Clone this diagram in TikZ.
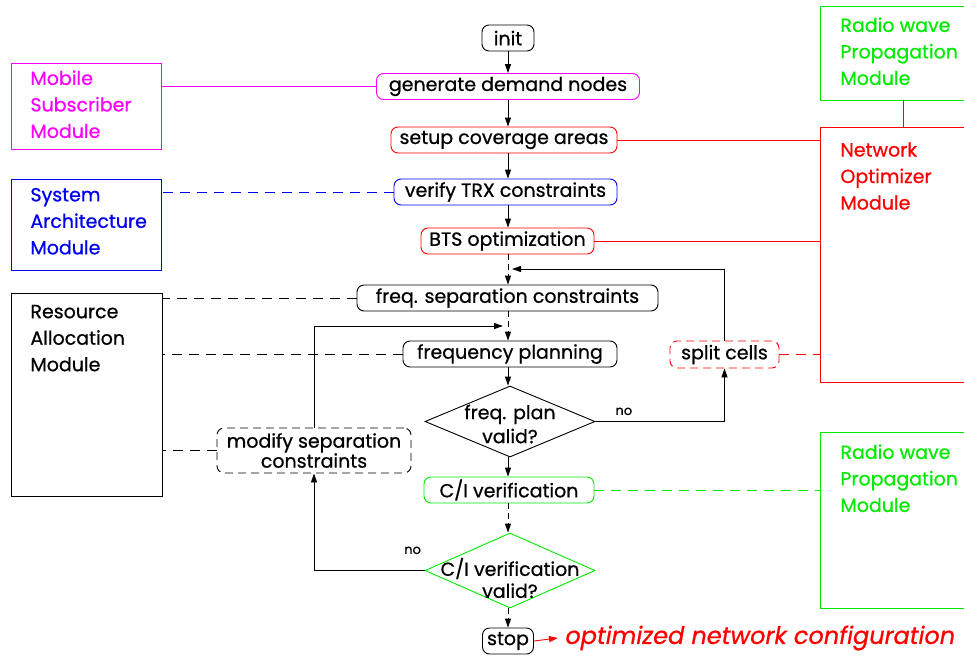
\documentclass[tikz,border=0pt]{standalone}
\usepackage{fontspec}
\setmainfont{Poppins}[FakeBold=0.7]
\usetikzlibrary{arrows.meta,shapes.geometric}
\definecolor{mag}{RGB}{255,0,255}
\definecolor{grn}{RGB}{0,235,0}
\definecolor{blu}{RGB}{0,0,240}
\begin{document}
\begin{tikzpicture}[x=1pt,y=-1pt,
  font=\fontsize{19}{23}\selectfont, line width=0.9pt,
  box/.style={draw, rounded corners=7pt, minimum height=26pt, inner sep=0pt},
  dia/.style={draw, shape=diamond, inner sep=0pt, minimum width=170pt},
  modbox/.style={draw, rectangle, inner sep=0pt},
  modtext/.style={anchor=north west, align=left, inner sep=0pt, font=\fontsize{19}{26.5}\selectfont},
  arr/.style={-{Triangle[length=9pt,width=6pt]}},
  adash/.style={dash pattern=on 6pt off 4pt},
  mdash/.style={dash pattern=on 10pt off 7pt},
  bdash/.style={dash pattern=on 8pt off 5pt},
  nolabel/.style={font=\fontsize{13}{15}\selectfont, inner sep=0pt}]
\useasboundingbox (0,0) rectangle (964,656);
\clip (0,0) rectangle (964,656);

% main flow
\node[box, minimum width=52pt] (init) at (508,38) {init};
\node[box, draw=mag, minimum width=263pt] (gen) at (508,86.5) {generate demand nodes};
\node[box, draw=red, minimum width=226pt] (setup) at (504,140) {setup coverage areas};
\node[box, draw=blu, minimum width=223pt] (trx) at (505.5,192) {verify TRX constraints};
\node[box, draw=red, minimum width=173pt] (bts) at (507.5,241) {BTS optimization};
\node[box, minimum width=301pt] (fsc) at (507.5,298) {freq. separation constraints};
\node[box, minimum width=214pt] (fp) at (510,354) {frequency planning};
\node[dia, minimum height=71pt] (fpv) at (510,421.5) {};
\node[align=center, inner sep=0pt, font=\fontsize{19}{24}\selectfont] (fpvt) at (510,424) {freq. plan\\valid?};
\node[box, draw=grn, minimum width=170pt] (civ) at (509,490) {C/I verification};
\node[dia, draw=grn, minimum height=75pt] (civv) at (510,570.5) {};
\node[align=center, inner sep=0pt, font=\fontsize{19}{22}\selectfont] (civvt) at (510,578) {C/I verification\\valid?};
\node[box, minimum width=51pt] (stop) at (508,641) {stop};
\node[box, bdash, minimum width=194pt, minimum height=45pt, align=center, font=\fontsize{19}{20}\selectfont] (mod) at (314,450.5) {modify separation\\constraints};
\node[box, draw=red, bdash, minimum width=109pt, minimum height=27pt] (split) at (724.5,354.5) {split cells};
\node[anchor=west, inner sep=0pt, text=red, font=\fontsize{24}{28}\selectfont\itshape] (opt) at (565,638) {optimized network configuration};

% modules
\node[modbox, draw=mag, minimum width=150pt, minimum height=86pt] (mob) at (86,106) {};
\node[modtext, text=mag] (mobt) at (30,70) {Mobile\\Subscriber\\Module};
\node[modbox, draw=blu, minimum width=150pt, minimum height=91pt] (sys) at (86,224.5) {};
\node[modtext, text=blu] (syst) at (30,187.5) {System\\Architecture\\Module};
\node[modbox, minimum width=151pt, minimum height=203pt] (res) at (86.5,394.5) {};
\node[modtext] (rest) at (30,304.5) {Resource\\Allocation\\Module};
\node[modbox, draw=grn, minimum width=170pt, minimum height=94pt] (radt) at (905,53) {};
\node[modtext, text=grn] (radtt) at (840,17) {Radio wave\\Propagation\\Module};
\node[modbox, draw=red, minimum width=170pt, minimum height=255pt] (net) at (905,254.5) {};
\node[modtext, text=red] (nett) at (840,142) {Network\\Optimizer\\Module};
\node[modbox, draw=grn, minimum width=170pt, minimum height=176pt] (radb) at (905,520) {};
\node[modtext, text=grn] (radbt) at (840,444) {Radio wave\\Propagation\\Module};

\coordinate (ax) at (508,0);
\coordinate (jA) at (512,269);
\coordinate (jB) at (503,326);

% axis arrows
\draw[arr] (ax |- init.south) -- (ax |- gen.north);
\draw[arr] (ax |- gen.south) -- (ax |- setup.north);
\draw[arr] (ax |- setup.south) -- (ax |- trx.north);
\draw[arr] (ax |- trx.south) -- (ax |- bts.north);
\draw[arr, adash] (ax |- bts.south) -- (ax |- fsc.north);
\draw[arr, adash] (ax |- fsc.south) -- (ax |- fp.north);
\draw[arr] (ax |- fp.south) -- (ax |- fpv.north);
\draw[arr] (ax |- fpv.south) -- (ax |- civ.north);
\draw[arr, adash] (ax |- civ.south) -- (ax |- civv.north);
\draw[arr, adash] (ax |- civv.south) -- (ax |- stop.north);
\draw[red, -{Triangle[length=9pt,width=6pt]}] (stop.east) -- ([xshift=-7pt]opt.west);

% loops
\draw[arr] (fpv.east) -| node[nolabel, pos=0.11, above=6pt] (no1) {no} (split.south);
\draw[arr] (split.north) |- (jA);
\draw[arr] (civv.west) -| node[nolabel, pos=0.054, above=16pt] (no2) {no} (mod.south);
\draw[arr] (mod.north) |- (jB);

% module connectors
\draw[mag] (gen.west) -- (gen.west -| mob.east);
\draw[blu, mdash] (trx.west) -- (trx.west -| sys.east);
\draw[mdash] (fsc.west) -- (fsc.west -| res.east);
\draw[mdash] (fp.west) -- (fp.west -| res.east);
\draw[mdash] (mod.west) -- (mod.west -| res.east);
\draw[red] (setup.east) -- (setup.east -| net.west);
\draw[red] (bts.east) -- (bts.east -| net.west);
\draw[red, mdash] (split.east) -- (split.east -| net.west);
\draw[grn, mdash] (civ.east) -- (civ.east -| radb.west);
\draw[red] ([xshift=84pt]radt.south west) -- ([xshift=84pt]net.north west);
\end{tikzpicture}
\end{document}
